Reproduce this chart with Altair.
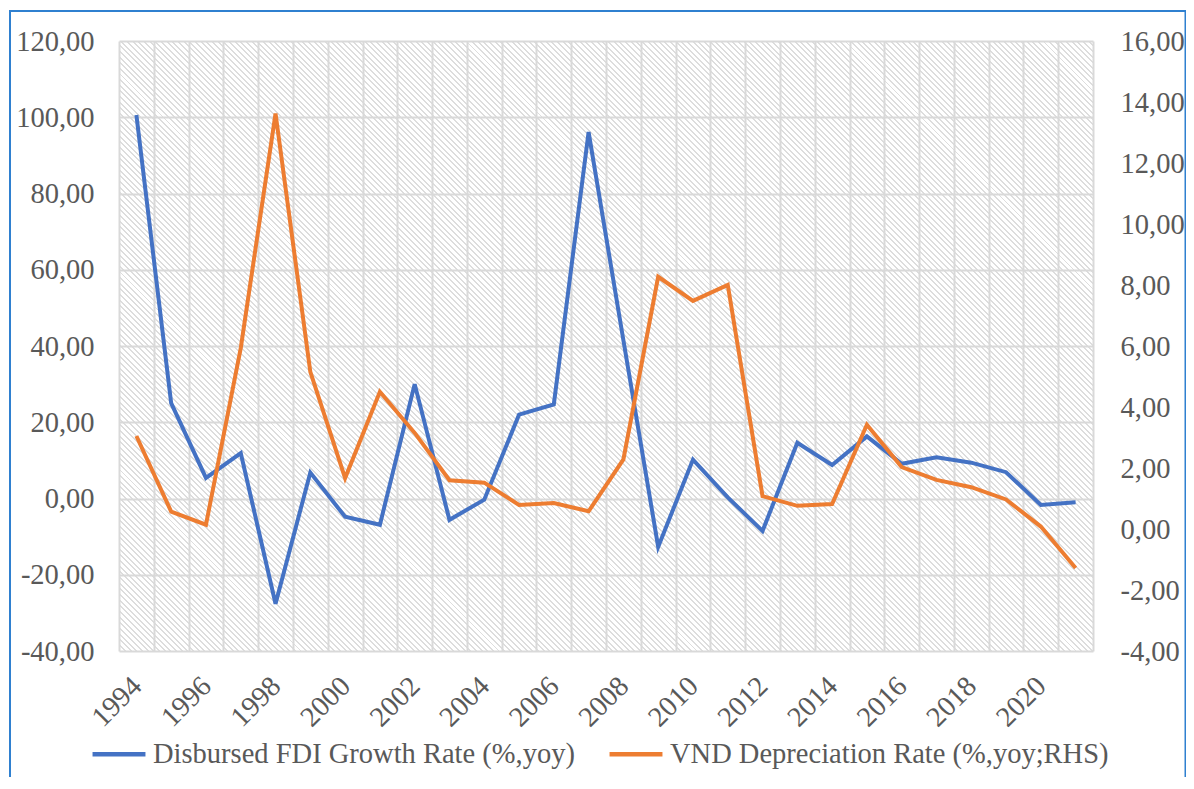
import altair as alt
import pandas as pd

years = list(range(1994, 2022))
fdi_growth = [100.6, 25.0, 5.4, 11.9, -27.6, 6.8, -4.8, -6.9, 30.0, -5.6, -0.3, 22.0, 24.7,
              96.1, 41.5, -12.7, 10.2, 0.3, -8.5, 14.6, 8.8, 16.3, 9.1, 10.8, 9.4, 6.9, -1.7, -1.0]
vnd_dep = [3.05, 0.57, 0.14, 5.93, 13.62, 5.15, 1.67, 4.50, 3.15, 1.60, 1.52, 0.79, 0.85,
           0.58, 2.28, 8.27, 7.48, 8.00, 1.08, 0.76, 0.82, 3.42, 2.03, 1.61, 1.37, 0.97, 0.08, -1.28]

name_fdi = "Disbursed FDI Growth Rate (%,yoy)"
name_vnd = "VND Depreciation Rate (%,yoy;RHS)"

df = pd.DataFrame({"year": years, "fdi": fdi_growth, "vnd": vnd_dep})

W, H = 974, 610
FONT = "Liberation Serif"
TXT = "#595959"
GRID = "#d9d9d9"

# diagonal hatch for the plot area, built as a striped linear gradient
s = H / W
f = (1 + s) / (1 + s * s)
span = (W + H) / 2 ** 0.5
period = 4.0
stripe = 1.4
HATCH = "#dddddd"
n = int(span / period) + 1
stops = []
for i in range(n):
    a = i * period / span
    b = min((i * period + stripe) / span, 1.0)
    if a >= 1:
        break
    stops += [f"{{offset:{a:.5f},color:'#ffffff'}}", f"{{offset:{a:.5f},color:'{HATCH}'}}",
              f"{{offset:{b:.5f},color:'{HATCH}'}}", f"{{offset:{b:.5f},color:'#ffffff'}}"]
grad_expr = ("{gradient:'linear',x1:0,y1:1,x2:%.5f,y2:%.5f,stops:[%s]}"
             % (f, 1 - s * f, ",".join(stops)))

color_scale = alt.Scale(domain=[name_fdi, name_vnd], range=["#4472C4", "#ED7D31"])

x_enc = alt.X("year:O", title=None,
              scale=alt.Scale(type="band", paddingInner=0, paddingOuter=0),
              axis=alt.Axis(labelExpr="datum.value % 2 == 0 ? datum.label : ''",
                            labelAngle=-45, labelAlign="right", labelBaseline="middle",
                            labelPadding=30, tickBand="extent", grid=True,
                            gridColor=GRID, gridWidth=2, ticks=False, domain=False,
                            labelFont=FONT, labelFontSize=28.5, labelColor=TXT))

fmt = "(datum.value < 0 ? '-' : '') + replace(format(abs(datum.value), '.2f'), '.', ',')"

legend = alt.Legend(title=None, orient="none", legendX=-29, legendY=684,
                    direction="horizontal", symbolType="stroke",
                    symbolSize=2800, symbolStrokeWidth=4.5,
                    labelFont=FONT, labelFontSize=28.5, labelColor=TXT,
                    labelOffset=5, columnPadding=25, labelLimit=800)

fdi_line = alt.Chart(df).transform_calculate(series=f"'{name_fdi}'").mark_line(strokeWidth=4).encode(
    x=x_enc,
    y=alt.Y("fdi:Q", title=None,
            scale=alt.Scale(domain=[-40, 120], nice=False, zero=False),
            axis=alt.Axis(orient="left", values=list(range(-40, 121, 20)), labelExpr=fmt,
                          grid=True, gridColor=GRID, gridWidth=2, ticks=False, domain=False,
                          labelPadding=25, labelFont=FONT, labelFontSize=28.5, labelColor=TXT)),
    color=alt.Color("series:N", scale=color_scale, legend=legend),
)

vnd_line = alt.Chart(df).transform_calculate(series=f"'{name_vnd}'").mark_line(strokeWidth=4).encode(
    x=x_enc,
    y=alt.Y("vnd:Q", title=None,
            scale=alt.Scale(domain=[-4, 16], nice=False, zero=False),
            axis=alt.Axis(orient="right", values=list(range(-4, 17, 2)), labelExpr=fmt,
                          grid=False, ticks=False, domain=False, labelPadding=27,
                          labelFont=FONT, labelFontSize=28.5, labelColor=TXT)),
    color=alt.Color("series:N", scale=color_scale, legend=legend),
)

border = alt.Chart(alt.Data(values=[{}])).mark_rect(
    filled=False, stroke="#2F80D0", strokeWidth=2
).encode(x=alt.value(-109), x2=alt.value(1066.5), y=alt.value(-30), y2=alt.value(900))

chart = alt.layer(fdi_line, vnd_line, border).resolve_scale(
    y="independent"
).properties(
    width=W, height=H,
    autosize=alt.AutoSizeParams(type="none"),
    padding={"left": 111, "top": 33, "right": 93, "bottom": 126},
    view=alt.ViewBackground(fill=alt.ExprRef(expr=grad_expr), stroke=None),
    background="white",
)

chart.save("out.html", embed_options={"renderer": "svg", "actions": False})
